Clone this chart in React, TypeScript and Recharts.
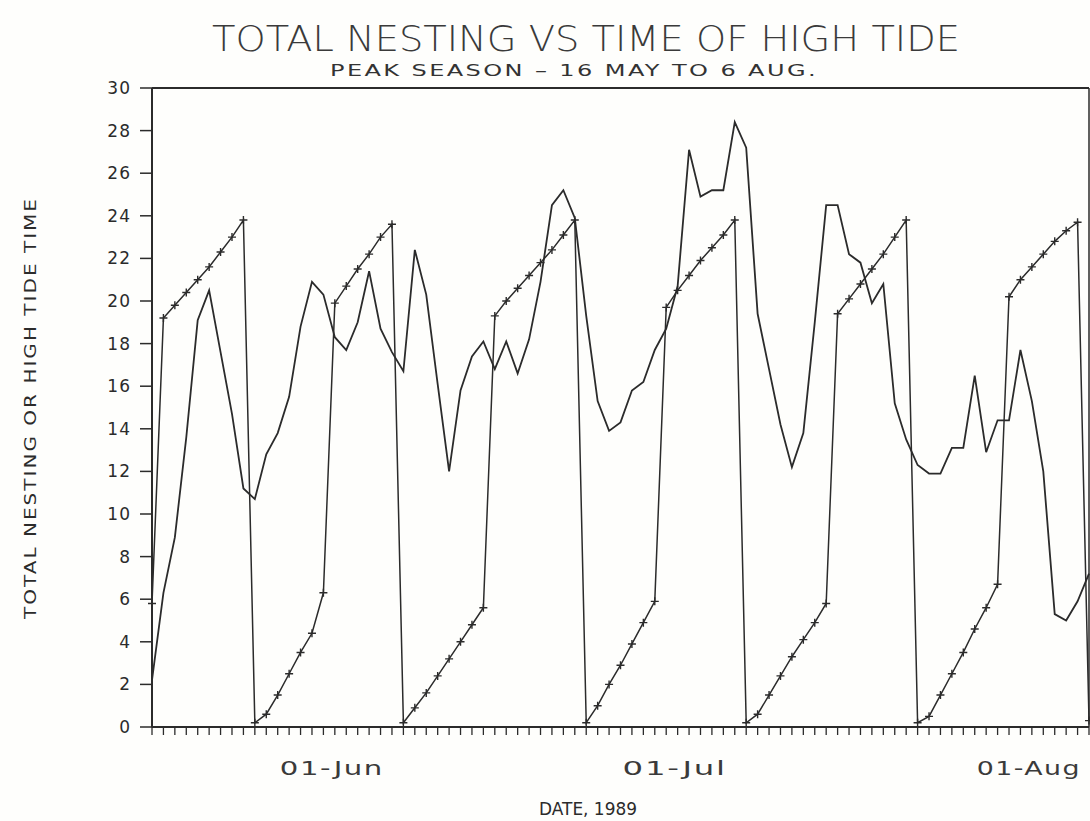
import React from 'react';
import { LineChart, Line, XAxis, YAxis, ReferenceLine } from 'recharts';

// one value per day, 16 May (day 0) .. 6 Aug 1989 (day 82)
const NESTING = [
  2.2, 6.3, 8.9, 13.6, 19.1, 20.5, 17.6, 14.7, 11.2, 10.7,
  12.8, 13.8, 15.5, 18.8, 20.9, 20.3, 18.3, 17.7, 19.0, 21.4,
  18.7, 17.6, 16.7, 22.4, 20.3, 16.1, 12.0, 15.8, 17.4, 18.1,
  16.8, 18.1, 16.6, 18.2, 20.9, 24.5, 25.2, 23.9, 19.3, 15.3,
  13.9, 14.3, 15.8, 16.2, 17.7, 18.7, 20.7, 27.1, 24.9, 25.2,
  25.2, 28.4, 27.2, 19.4, 16.8, 14.2, 12.2, 13.8, 19.0, 24.5,
  24.5, 22.2, 21.8, 19.9, 20.8, 15.2, 13.5, 12.3, 11.9, 11.9,
  13.1, 13.1, 16.5, 12.9, 14.4, 14.4, 17.7, 15.3, 12.0, 5.3,
  5.0, 5.9, 7.2,
];

const HIGH_TIDE = [
  5.8,
  19.2, 19.8, 20.4, 21.0, 21.6, 22.3, 23.0, 23.8,
  0.2, 0.6, 1.5, 2.5, 3.5, 4.4, 6.3,
  19.9, 20.7, 21.5, 22.2, 23.0, 23.6,
  0.2, 0.9, 1.6, 2.4, 3.2, 4.0, 4.8, 5.6,
  19.3, 20.0, 20.6, 21.2, 21.8, 22.4, 23.1, 23.8,
  0.2, 1.0, 2.0, 2.9, 3.9, 4.9, 5.9,
  19.7, 20.5, 21.2, 21.9, 22.5, 23.1, 23.8,
  0.2, 0.6, 1.5, 2.4, 3.3, 4.1, 4.9, 5.8,
  19.4, 20.1, 20.8, 21.5, 22.2, 23.0, 23.8,
  0.2, 0.5, 1.5, 2.5, 3.5, 4.6, 5.6, 6.7,
  20.2, 21.0, 21.6, 22.2, 22.8, 23.3, 23.7,
  0.3,
];

const DAYS = NESTING.map((_, i) => i);
const MONTH_LABELS: Record<number, string> = { 16: '01-Jun', 46: '01-Jul', 77: '01-Aug' };
const Y_TICKS = [0, 2, 4, 6, 8, 10, 12, 14, 16, 18, 20, 22, 24, 26, 28, 30];

const INK = '#2b2b2b';
const FONT = "'DejaVu Sans', 'Liberation Sans', sans-serif";

const data = DAYS.map(d => ({ d, nesting: NESTING[d], tide: HIGH_TIDE[d] }));

function DayTick({ x, y, payload }: any) {
  const label = MONTH_LABELS[payload.value];
  return (
    <g>
      <line x1={x} x2={x} y1={y} y2={y + 8} stroke={INK} strokeWidth={1.3} />
      {label && (
        <text x={x - 3} y={y + 48} textAnchor="middle" fontSize={19} fontFamily={FONT} fill="#3a3a3a"
          letterSpacing={1} textLength={104} lengthAdjust="spacingAndGlyphs">
          {label}
        </text>
      )}
    </g>
  );
}

function TideMark({ cx, cy, index }: any) {
  if (cx == null || cy == null) return <g key={index} />;
  return (
    <path
      key={index}
      d={`M${cx - 4},${cy}H${cx + 4}M${cx},${cy - 4}V${cy + 4}`}
      stroke={INK}
      strokeWidth={1.4}
      fill="none"
    />
  );
}

export default function App() {
  return (
    <div style={{ position: 'absolute', left: 0, top: 0, width: 1090, height: 821, background: '#fefefc' }}>
      <LineChart width={1090} height={821} data={data} margin={{ top: 88, right: 1, bottom: 0, left: 0 }}>
        <XAxis
          dataKey="d"
          type="number"
          domain={[0, 82]}
          ticks={DAYS}
          interval={0}
          height={94}
          tickSize={0}
          tickMargin={0}
          tickLine={false}
          axisLine={{ stroke: INK, strokeWidth: 2 }}
          tick={<DayTick />}
        />
        <YAxis
          type="number"
          domain={[0, 30]}
          ticks={Y_TICKS}
          interval={0}
          width={152}
          tickSize={12}
          tickMargin={9}
          tickLine={{ stroke: INK, strokeWidth: 1.5 }}
          axisLine={{ stroke: INK, strokeWidth: 2 }}
          tick={{ fill: INK, fontSize: 17, fontFamily: FONT, letterSpacing: 1 }}
        />
        <ReferenceLine y={30} stroke={INK} strokeWidth={2} />
        <ReferenceLine x={82} stroke={INK} strokeWidth={1.5} />
        <Line
          dataKey="nesting"
          type="linear"
          stroke={INK}
          strokeWidth={1.8}
          dot={false}
          isAnimationActive={false}
        />
        <Line
          dataKey="tide"
          type="linear"
          stroke={INK}
          strokeWidth={1.5}
          dot={<TideMark />}
          isAnimationActive={false}
        />
      </LineChart>
      <svg width={1090} height={821} style={{ position: 'absolute', left: 0, top: 0, pointerEvents: 'none' }}>
        <text x={586} y={51} textAnchor="middle" fontSize={35} fontFamily={FONT} fontWeight={300}
          fill="#3a3a3a" textLength={748} lengthAdjust="spacingAndGlyphs">
          TOTAL NESTING VS TIME OF HIGH TIDE
        </text>
        <text x={574} y={76} textAnchor="middle" fontSize={15} fontFamily={FONT}
          fill="#333" letterSpacing={1.5} textLength={488} lengthAdjust="spacingAndGlyphs">
          PEAK SEASON – 16 MAY TO 6 AUG.
        </text>
        <text x={36} y={408} textAnchor="middle" fontSize={15} fontFamily={FONT}
          fill={INK} transform="rotate(-90 36 408)" letterSpacing={1.5} textLength={422}
          lengthAdjust="spacingAndGlyphs">
          TOTAL NESTING OR HIGH TIDE TIME
        </text>
        <text x={588} y={815} textAnchor="middle" fontSize={17} fontFamily={FONT}
          fill={INK} textLength={98} lengthAdjust="spacingAndGlyphs">
          DATE, 1989
        </text>
      </svg>
    </div>
  );
}
